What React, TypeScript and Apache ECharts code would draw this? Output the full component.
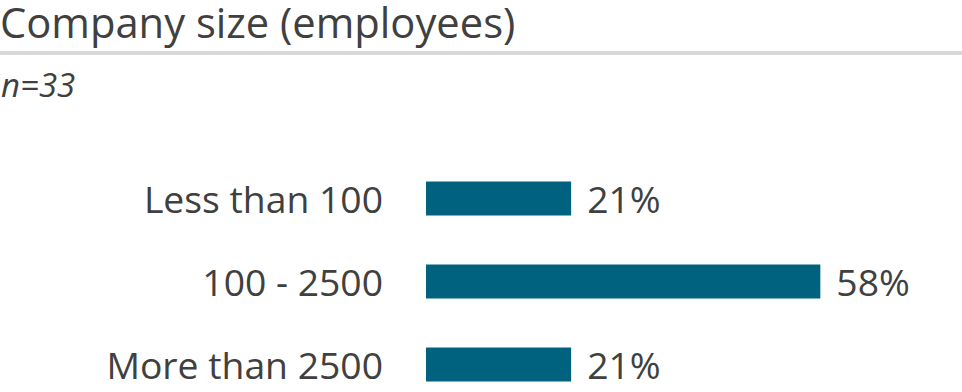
import React, { useEffect, useRef } from "react";
import * as echarts from "echarts";

const categories = ["Less than 100", "100 - 2500", "More than 2500"];
const shares = [21.2, 57.6, 21.2];
const titleText = "Company size (employees)";
const sampleText = "n=33";

const FONT = "'Open Sans', 'Noto Sans', sans-serif";
const TEXT = "#404040";
const BAR = "#00627f";

export default function App() {
  const ref = useRef<HTMLDivElement>(null);
  useEffect(() => {
    document.body.style.margin = "0";
    const chart = echarts.init(ref.current!, null, { renderer: "svg" });
    chart.setOption({
      animation: false,
      backgroundColor: "#ffffff",
      textStyle: { fontFamily: FONT },
      graphic: [
        {
          type: "text",
          left: 0,
          top: 0,
          style: { text: titleText, fontSize: 41.7, fontFamily: FONT, fill: TEXT },
        },
        {
          type: "rect",
          shape: { x: 0, y: 51, width: 962, height: 4 },
          style: { fill: "#d9d9d9" },
        },
        {
          type: "text",
          left: 1,
          top: 68,
          style: { text: sampleText, fontSize: 33, fontStyle: "italic", fontFamily: FONT, fill: TEXT },
        },
      ],
      grid: { left: 426, top: 157, height: 249, width: 534, outerBoundsMode: "none", containLabel: false },
      xAxis: {
        type: "value",
        min: 0,
        max: 78,
        show: false,
        splitLine: { show: false },
      },
      yAxis: {
        type: "category",
        data: categories,
        inverse: true,
        axisLine: { show: false },
        axisTick: { show: false },
        axisLabel: { fontSize: 37.3, color: TEXT, margin: 43, fontFamily: FONT },
      },
      series: [
        {
          type: "bar",
          data: shares,
          barWidth: 34,
          itemStyle: { color: BAR },
          label: {
            show: true,
            position: "right",
            distance: 16,
            fontSize: 37.3,
            color: TEXT,
            fontFamily: FONT,
            formatter: (p: any) => Math.round(p.value) + "%",
          },
        },
      ],
    });
    return () => chart.dispose();
  }, []);
  return <div ref={ref} style={{ position: "absolute", left: 0, top: 0, width: 962, height: 392 }} />;
}
